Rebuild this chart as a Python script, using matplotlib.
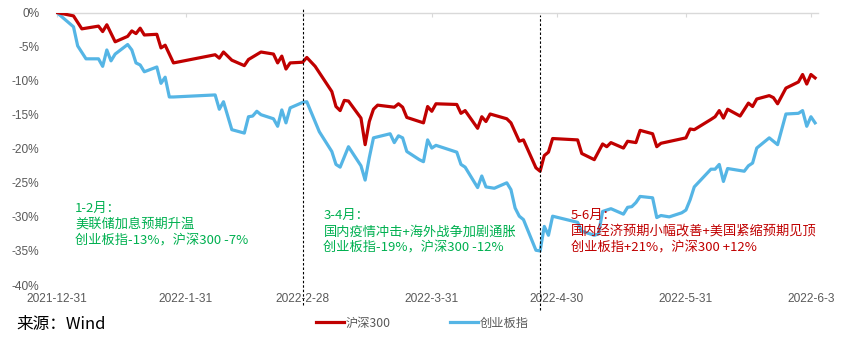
import matplotlib
matplotlib.use("Agg")
import matplotlib.pyplot as plt
import matplotlib.dates as mdates
from matplotlib.ticker import FuncFormatter, FixedLocator
from matplotlib.lines import Line2D
import pandas as pd

# 沪深300 cumulative return (%) since 2021-12-31
hs300_dates = [
    "2021-12-31", "2022-01-04", "2022-01-06", "2022-01-10", "2022-01-11", "2022-01-12",
    "2022-01-14", "2022-01-17", "2022-01-18", "2022-01-19", "2022-01-20", "2022-01-21",
    "2022-01-24", "2022-01-25", "2022-01-26", "2022-01-28", "2022-02-07", "2022-02-08",
    "2022-02-09", "2022-02-11", "2022-02-14", "2022-02-15", "2022-02-18", "2022-02-21",
    "2022-02-22", "2022-02-23", "2022-02-24", "2022-02-25", "2022-02-28", "2022-03-01",
    "2022-03-03", "2022-03-07", "2022-03-08", "2022-03-09", "2022-03-10", "2022-03-11",
    "2022-03-14", "2022-03-15", "2022-03-16", "2022-03-17", "2022-03-18", "2022-03-22",
    "2022-03-23", "2022-03-24", "2022-03-25", "2022-03-29", "2022-03-30", "2022-03-31",
    "2022-04-01", "2022-04-06", "2022-04-07", "2022-04-08", "2022-04-11", "2022-04-12",
    "2022-04-13", "2022-04-14", "2022-04-18", "2022-04-19", "2022-04-21", "2022-04-22",
    "2022-04-25", "2022-04-26", "2022-04-27", "2022-04-28", "2022-04-29", "2022-05-05",
    "2022-05-06", "2022-05-09", "2022-05-11", "2022-05-12", "2022-05-13", "2022-05-16",
    "2022-05-17", "2022-05-19", "2022-05-20", "2022-05-23", "2022-05-24", "2022-05-25",
    "2022-05-31", "2022-06-01", "2022-06-02", "2022-06-06", "2022-06-07", "2022-06-08",
    "2022-06-09", "2022-06-10", "2022-06-13", "2022-06-15", "2022-06-16", "2022-06-17",
    "2022-06-20", "2022-06-21", "2022-06-22", "2022-06-24", "2022-06-27", "2022-06-28",
    "2022-06-29", "2022-06-30", "2022-07-01",
]
hs300_values = [
    0.0, -0.5, -2.4, -2.0, -2.8, -1.8,
    -4.3, -3.5, -2.7, -3.1, -2.3, -3.3,
    -3.2, -5.2, -4.8, -7.4, -6.2, -6.7,
    -5.8, -7.0, -7.8, -6.9, -5.8, -6.1,
    -7.4, -6.4, -8.3, -7.4, -7.3, -6.6,
    -7.9, -11.6, -13.8, -14.4, -12.9, -13.0,
    -15.5, -19.4, -16.0, -14.2, -13.6, -13.9,
    -13.4, -13.9, -15.4, -16.2, -13.8, -14.5,
    -13.4, -13.5, -14.8, -14.4, -17.0, -15.3,
    -16.0, -14.9, -15.6, -16.2, -18.9, -18.7,
    -22.8, -23.3, -21.0, -20.5, -18.5, -18.7,
    -20.7, -21.6, -19.3, -19.7, -19.1, -19.9,
    -18.9, -19.1, -17.3, -17.8, -19.7, -19.2,
    -18.4, -17.1, -17.2, -15.7, -15.3, -14.4,
    -15.5, -14.2, -15.2, -13.3, -13.8, -12.7,
    -12.2, -12.5, -13.4, -11.1, -10.2, -9.1,
    -10.5, -9.1, -9.6,
]

# 创业板指 cumulative return (%) since 2021-12-31
cyb_dates = [
    "2021-12-31", "2022-01-04", "2022-01-05", "2022-01-07", "2022-01-10", "2022-01-11",
    "2022-01-12", "2022-01-13", "2022-01-14", "2022-01-17", "2022-01-18", "2022-01-19",
    "2022-01-20", "2022-01-21", "2022-01-24", "2022-01-25", "2022-01-26", "2022-01-27",
    "2022-01-28", "2022-02-07", "2022-02-08", "2022-02-09", "2022-02-11", "2022-02-14",
    "2022-02-15", "2022-02-16", "2022-02-17", "2022-02-18", "2022-02-21", "2022-02-22",
    "2022-02-23", "2022-02-24", "2022-02-25", "2022-02-28", "2022-03-01", "2022-03-04",
    "2022-03-07", "2022-03-08", "2022-03-09", "2022-03-11", "2022-03-14", "2022-03-15",
    "2022-03-16", "2022-03-17", "2022-03-21", "2022-03-22", "2022-03-23", "2022-03-24",
    "2022-03-25", "2022-03-28", "2022-03-29", "2022-03-30", "2022-03-31", "2022-04-01",
    "2022-04-06", "2022-04-07", "2022-04-08", "2022-04-11", "2022-04-12", "2022-04-13",
    "2022-04-15", "2022-04-18", "2022-04-19", "2022-04-20", "2022-04-21", "2022-04-22",
    "2022-04-25", "2022-04-26", "2022-04-27", "2022-04-28", "2022-04-29", "2022-05-05",
    "2022-05-06", "2022-05-09", "2022-05-10", "2022-05-11", "2022-05-13", "2022-05-16",
    "2022-05-17", "2022-05-18", "2022-05-19", "2022-05-20", "2022-05-23", "2022-05-24",
    "2022-05-25", "2022-05-27", "2022-05-30", "2022-05-31", "2022-06-01", "2022-06-02",
    "2022-06-06", "2022-06-07", "2022-06-08", "2022-06-09", "2022-06-10", "2022-06-14",
    "2022-06-15", "2022-06-16", "2022-06-17", "2022-06-20", "2022-06-22", "2022-06-24",
    "2022-06-27", "2022-06-28", "2022-06-29", "2022-06-30", "2022-07-01",
]
cyb_values = [
    0.0, -2.1, -4.9, -6.8, -6.8, -7.9,
    -5.5, -7.1, -6.1, -4.7, -5.5, -7.4,
    -7.7, -8.7, -8.0, -10.4, -9.5, -12.4,
    -12.4, -12.1, -14.2, -13.1, -17.2, -17.7,
    -15.3, -15.2, -14.5, -15.0, -15.6, -16.7,
    -14.3, -16.2, -14.0, -13.2, -13.1, -17.5,
    -20.4, -22.3, -22.7, -19.7, -22.5, -24.6,
    -21.3, -18.4, -17.8, -19.1, -18.1, -18.4,
    -20.4, -21.6, -21.9, -18.7, -19.9, -19.5,
    -20.5, -22.3, -22.7, -25.7, -24.0, -25.6,
    -25.8, -25.0, -26.0, -28.7, -29.9, -30.4,
    -34.9, -35.0, -31.4, -32.7, -29.9, -30.8,
    -32.1, -32.7, -32.5, -29.2, -28.8, -29.6,
    -28.6, -28.5, -27.9, -27.0, -27.2, -30.1,
    -29.8, -30.0, -29.4, -29.0, -27.5, -25.6,
    -23.0, -23.0, -22.3, -24.8, -22.9, -23.3,
    -22.5, -22.1, -19.9, -18.4, -19.4, -14.9,
    -14.8, -14.4, -16.7, -15.3, -16.2,
]

tick_dates = ["2021-12-31", "2022-01-31", "2022-02-28", "2022-03-31",
              "2022-04-30", "2022-05-31", "2022-06-30"]
tick_labels = ["2021-12-31", "2022-1-31", "2022-2-28", "2022-3-31",
               "2022-4-30", "2022-5-31", "2022-6-3"]
y_ticks = [0, -5, -10, -15, -20, -25, -30, -35, -40]

phase_lines = ["2022-02-28", "2022-04-26"]

note_1 = "1-2月：\n美联储加息预期升温\n创业板指-13%，沪深300 -7%"
note_2 = "3-4月：\n国内疫情冲击+海外战争加剧通胀\n创业板指-19%，沪深300 -12%"
note_3 = "5-6月：\n国内经济预期小幅改善+美国紧缩预期见顶\n创业板指+21%，沪深300 +12%"

RED = "#C00000"
BLUE = "#55B5E5"
GREEN = "#00B050"
GRAY_TXT = "#595959"
CJK = ["Noto Sans CJK SC", "DejaVu Sans"]
LATIN = ["Liberation Sans", "DejaVu Sans"]

fig = plt.figure(figsize=(8.58, 3.40), dpi=100)
ax = fig.add_axes([56 / 858, 1 - 285 / 340, (818 - 56) / 858, (285 - 12.5) / 340])

hs_x = pd.to_datetime(hs300_dates)
cy_x = pd.to_datetime(cyb_dates)
ax.plot(hs_x, hs300_values, color=RED, lw=2.3, solid_joinstyle="round", zorder=3)
ax.plot(cy_x, cyb_values, color=BLUE, lw=2.3, solid_joinstyle="round", zorder=2)

x0 = mdates.date2num(pd.Timestamp("2021-12-31"))
ax.set_xlim(x0 - 0.2, x0 + 182.7)
ax.set_ylim(-40, 0)

# x axis: gray line at 0%, ticks hanging below it, labels at the bottom
for side in ("left", "right", "bottom"):
    ax.spines[side].set_visible(False)
ax.spines["top"].set_color("#D9D9D9")
ax.spines["top"].set_linewidth(1.0)
ax.xaxis.set_major_locator(FixedLocator(mdates.date2num(pd.to_datetime(tick_dates))))
ax.set_xticklabels(tick_labels)
ax.tick_params(axis="x", top=True, bottom=False, labeltop=False, labelbottom=True,
               direction="in", length=3, color="#D9D9D9", pad=6,
               labelsize=8.6, labelcolor=GRAY_TXT)
for lab in ax.get_xticklabels():
    lab.set_family(LATIN)

ax.set_yticks(y_ticks)
ax.yaxis.set_major_formatter(FuncFormatter(lambda v, p: f"{v:.0f}%"))
ax.tick_params(axis="y", left=False, length=0, pad=12, labelsize=8.6, labelcolor=GRAY_TXT)
for lab in ax.get_yticklabels():
    lab.set_family(LATIN)

# phase separators
trans = ax.get_xaxis_transform()
for d, (yb, yt) in zip(phase_lines, [(-0.075, 1.017), (-0.092, 0.991)]):
    xd = mdates.date2num(pd.Timestamp(d))
    ax.plot([xd, xd], [yb, yt], transform=trans, color="black", lw=0.8,
            ls=(0, (2.2, 1.8)), clip_on=False, zorder=4)

# phase notes
note_kw = dict(fontsize=9.5, family=CJK, va="center", ha="left", linespacing=1.32)
ax.text(x0 + 4.4, -31.1, note_1, color=GREEN, **note_kw)
ax.text(x0 + 64, -32.2, note_2, color=GREEN, **note_kw)
ax.text(x0 + 123.3, -32.2, note_3, color=RED, **note_kw)

# legend
handles = [Line2D([], [], color=RED, lw=2.3), Line2D([], [], color=BLUE, lw=2.3)]
leg = fig.legend(handles, ["沪深300", "创业板指"], loc="center",
                 bbox_to_anchor=(422 / 858, 1 - 323 / 340), ncol=2, frameon=False,
                 prop={"family": CJK, "size": 8.8}, handlelength=2.3,
                 handletextpad=0.1, columnspacing=4.9, borderpad=0)
for t in leg.get_texts():
    t.set_color(GRAY_TXT)

fig.text(16 / 858, 1 - 324 / 340, "来源：Wind", family=CJK, fontsize=12,
         color="black", va="center", ha="left")

fig.savefig("out.png", dpi=100)
